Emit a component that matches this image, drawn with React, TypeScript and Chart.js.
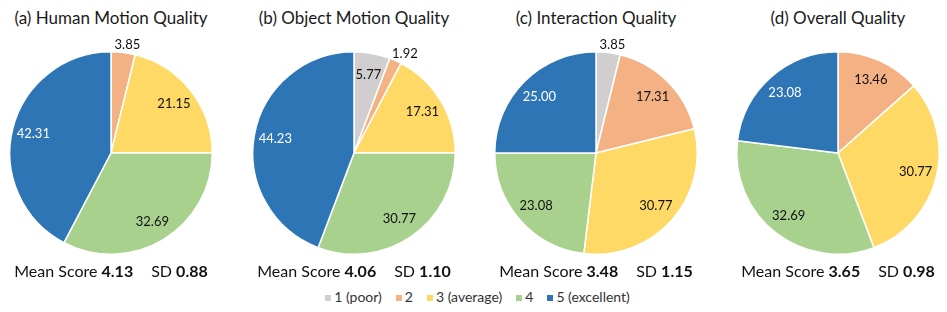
import React, { useEffect, useRef } from "react";
import { Chart, registerables } from "chart.js";

Chart.register(...registerables);

const categories = ["1 (poor)", "2", "3 (average)", "4", "5 (excellent)"];
const sliceColors = ["#D0CECE", "#F4B183", "#FFD966", "#A9D18E", "#2E75B6"];
const labelColors = ["#111111", "#111111", "#111111", "#111111", "#FFFFFF"];

const titles = [
  "(a) Human Motion Quality",
  "(b) Object Motion Quality",
  "(c) Interaction Quality",
  "(d) Overall Quality",
];
const humanMotion = [0, 3.85, 21.15, 32.69, 42.31];
const objectMotion = [5.77, 1.92, 17.31, 30.77, 44.23];
const interaction = [3.85, 17.31, 30.77, 23.08, 25.0];
const overall = [0, 13.46, 30.77, 32.69, 23.08];
const seriesList = [humanMotion, objectMotion, interaction, overall];
const meanScores = ["4.13", "4.06", "3.48", "3.65"];
const sds = ["0.88", "1.10", "1.15", "0.98"];

const FONT = "Lato, 'Open Sans', sans-serif";
const PANEL_W = 242;
const CX = [111, 354, 596, 838];

const labelPlugin = {
  id: "sliceLabels",
  afterDatasetsDraw(chart: any) {
    const ctx = chart.ctx;
    const meta = chart.getDatasetMeta(0);
    const data = chart.data.datasets[0].data as number[];
    ctx.save();
    ctx.font = `13px ${FONT}`;
    ctx.textAlign = "center";
    ctx.textBaseline = "middle";
    meta.data.forEach((arc: any, i: number) => {
      const v = data[i];
      if (!v) return;
      const p = arc.getProps(["x", "y", "startAngle", "endAngle", "outerRadius"], true);
      const mid = (p.startAngle + p.endAngle) / 2;
      const c = Math.cos(mid);
      const s = Math.sin(mid);
      const text = v.toFixed(2);
      const w = ctx.measureText(text).width;
      let tx: number, ty: number;
      if (v < 5) {
        const d = p.outerRadius + 3;
        tx = p.x + c * d + c * (w / 2 + 2) + 2;
        ty = p.y + s * d + s * 5;
        ctx.fillStyle = "#111111";
      } else {
        const d = p.outerRadius * 0.79;
        tx = p.x + c * d;
        ty = p.y + s * d;
        ctx.fillStyle = labelColors[i];
      }
      ctx.fillText(text, tx, ty);
    });
    ctx.restore();
  },
};

function PieChart({ values }: { values: number[] }) {
  const ref = useRef<HTMLCanvasElement | null>(null);
  useEffect(() => {
    if (!ref.current) return;
    const chart = new Chart(ref.current, {
      type: "pie",
      data: {
        labels: categories,
        datasets: [
          {
            data: values,
            backgroundColor: sliceColors,
            borderColor: "#FFFFFF",
            borderWidth: 1.5,
          },
        ],
      },
      options: {
        responsive: false,
        animation: false,
        layout: { padding: { left: 18, right: 18, top: 13, bottom: 13 } },
        plugins: {
          legend: { display: false },
          tooltip: { enabled: false },
          title: { display: false },
        },
      },
      plugins: [labelPlugin],
    });
    return () => chart.destroy();
  }, [values]);
  return (
    <canvas
      ref={ref}
      width={240}
      height={230}
      style={{ position: "absolute", left: PANEL_W / 2 - 120, top: 38 - 8, width: 240, height: 230 }}
    />
  );
}

export default function App() {
  return (
    <div
      style={{
        position: "relative",
        width: 931,
        height: 296,
        fontFamily: FONT,
        color: "#111111",
        background: "#FFFFFF",
      }}
    >
      {seriesList.map((vals, k) => (
        <div
          key={k}
          style={{
            position: "absolute",
            left: CX[k] - 8 - PANEL_W / 2,
            top: 0,
            width: PANEL_W,
            height: 296,
          }}
        >
          <div
            style={{
              position: "absolute",
              left: 0,
              top: 0,
              width: PANEL_W,
              textAlign: "center",
              fontSize: 17,
              lineHeight: "20px",
              color: "#1a1a1a",
            }}
          >
            {titles[k]}
          </div>
          <PieChart values={vals} />
          <div
            style={{
              position: "absolute",
              left: 0,
              top: 253,
              width: PANEL_W,
              textAlign: "center",
              fontSize: 16,
              lineHeight: "20px",
              whiteSpace: "nowrap",
            }}
          >
            Mean Score <b>{meanScores[k]}</b>
            <span style={{ marginLeft: 18 }}>SD </span>
            <b>{sds[k]}</b>
          </div>
        </div>
      ))}
      <div
        style={{
          position: "absolute",
          left: 4,
          top: 280,
          width: 931,
          display: "flex",
          justifyContent: "center",
          fontSize: 14,
          lineHeight: "18px",
          color: "#333333",
        }}
      >
        {categories.map((c, i) => (
          <div key={i} style={{ display: "flex", alignItems: "center", marginLeft: i ? 14 : 0 }}>
            <span
              style={{
                display: "inline-block",
                width: 6,
                height: 6,
                background: sliceColors[i],
                marginRight: 3,
                marginTop: 1,
              }}
            />
            <span>{c}</span>
          </div>
        ))}
      </div>
    </div>
  );
}
